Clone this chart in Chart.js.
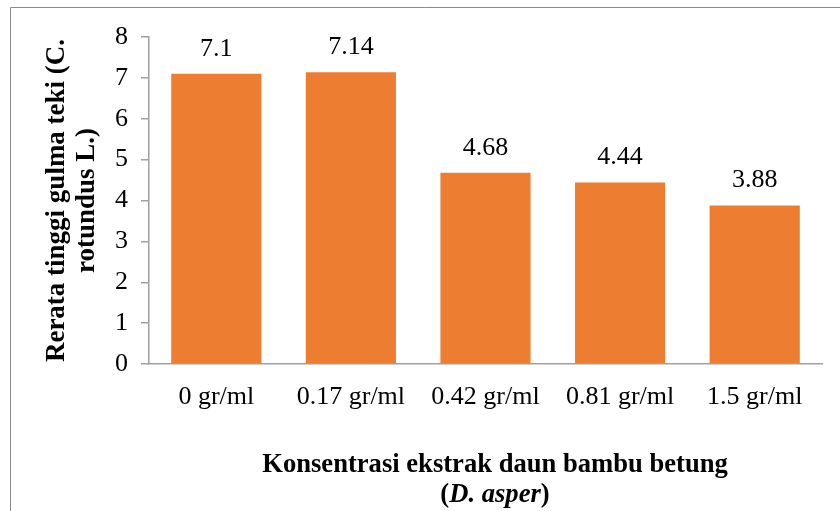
<!DOCTYPE html>
<html>
<head>
<meta charset="utf-8">
<script src="https://cdn.jsdelivr.net/npm/chart.js@4/dist/chart.umd.min.js"></script>
<style>
  html, body { margin: 0; padding: 0; background: #fff; }
  #wrap { width: 840px; height: 511px; }
</style>
</head>
<body>
<div id="wrap"><canvas id="chart1" width="840" height="511"></canvas></div>
<script>
// data
let categories = ['0 gr/ml', '0.17 gr/ml', '0.42 gr/ml', '0.81 gr/ml', '1.5 gr/ml'];
let heights = [7.1, 7.14, 4.68, 4.44, 3.88];
let yTicks = [0, 1, 2, 3, 4, 5, 6, 7, 8];
let yTitle = ['Rerata tinggi gulma teki (C.', 'rotundus L.)'];
let xTitle1 = 'Konsentrasi ekstrak daun bambu betung';
let xTitle2 = [['(', false], ['D. asper', true], [')', false]];

const serif = "'Liberation Serif', 'Times New Roman', serif";

/* frame line round the chart (only top and left show in the picture) */
const framePlugin = {
  id: 'frame',
  beforeDraw(chart) {
    const ctx = chart.ctx;
    ctx.save();
    ctx.strokeStyle = '#8a8a8a';
    ctx.lineWidth = 1;
    ctx.beginPath();
    ctx.moveTo(10.5, 511);
    ctx.lineTo(10.5, 7.5);
    ctx.lineTo(840, 7.5);
    ctx.stroke();
    ctx.restore();
  }
};

/* value labels over the bars */
const valuePlugin = {
  id: 'values',
  afterDatasetsDraw(chart) {
    const ctx = chart.ctx;
    const meta = chart.getDatasetMeta(0);
    ctx.save();
    ctx.font = '26px ' + serif;
    ctx.fillStyle = '#000';
    ctx.textAlign = 'center';
    ctx.textBaseline = 'middle';
    meta.data.forEach(function(bar, i) {
      ctx.fillText(String(heights[i]), bar.x, bar.y - 25);
    });
    ctx.restore();
  }
};

/* x axis title, second line has italic species name */
const xTitlePlugin = {
  id: 'xtitle',
  afterDraw(chart) {
    const ctx = chart.ctx;
    const cx = 495;
    ctx.save();
    ctx.fillStyle = '#000';
    ctx.textBaseline = 'middle';
    ctx.textAlign = 'center';
    ctx.font = 'bold 26.6px ' + serif;
    ctx.fillText(xTitle1, cx, 465);
    // second line, mixed styles
    let total = 0;
    xTitle2.forEach(function(p) {
      ctx.font = (p[1] ? 'italic ' : '') + 'bold 26.6px ' + serif;
      total += ctx.measureText(p[0]).width;
    });
    let x = cx - total / 2;
    ctx.textAlign = 'left';
    xTitle2.forEach(function(p) {
      ctx.font = (p[1] ? 'italic ' : '') + 'bold 26.6px ' + serif;
      ctx.fillText(p[0], x, 495);
      x += ctx.measureText(p[0]).width;
    });
    ctx.restore();
  }
};

const data = {
  labels: categories,
  datasets: [{
    data: heights,
    backgroundColor: '#ED7D31',
    borderWidth: 0,
    barPercentage: 0.67,
    categoryPercentage: 1
  }]
};

const config = {
  type: 'bar',
  data: data,
  options: {
    responsive: false,
    animation: false,
    events: [],
    layout: { padding: { top: 37, right: 18, left: 0, bottom: 0 } },
    plugins: {
      legend: { display: false },
      tooltip: { enabled: false }
    },
    scales: {
      x: {
        grid: { display: false },
        border: { display: true, color: '#a0a0a0', width: 1.5 },
        ticks: {
          color: '#000',
          font: { family: serif, size: 26 },
          padding: 10,
          maxRotation: 0,
          autoSkip: false
        },
        afterFit(scale) { scale.height = 147; }
      },
      y: {
        min: 0,
        max: 8,
        afterBuildTicks(scale) {
          scale.ticks = yTicks.map(function(v) { return { value: v }; });
        },
        grid: {
          display: true,
          drawOnChartArea: false,
          drawTicks: true,
          tickLength: 8,
          color: '#a0a0a0',
          lineWidth: 1.5
        },
        border: { display: true, color: '#a0a0a0', width: 1.5 },
        ticks: {
          color: '#000',
          font: { family: serif, size: 26 },
          padding: 13
        },
        title: {
          display: true,
          text: yTitle,
          color: '#000',
          align: 'center',
          font: { family: serif, size: 27, weight: 'bold', lineHeight: 1.11 },
          padding: { top: 42, bottom: 0 }
        },
        afterFit(scale) { scale.width = 149; }
      }
    }
  },
  plugins: [framePlugin, valuePlugin, xTitlePlugin]
};

const myChart = new Chart(document.getElementById('chart1'), config);
</script>
</body>
</html>
